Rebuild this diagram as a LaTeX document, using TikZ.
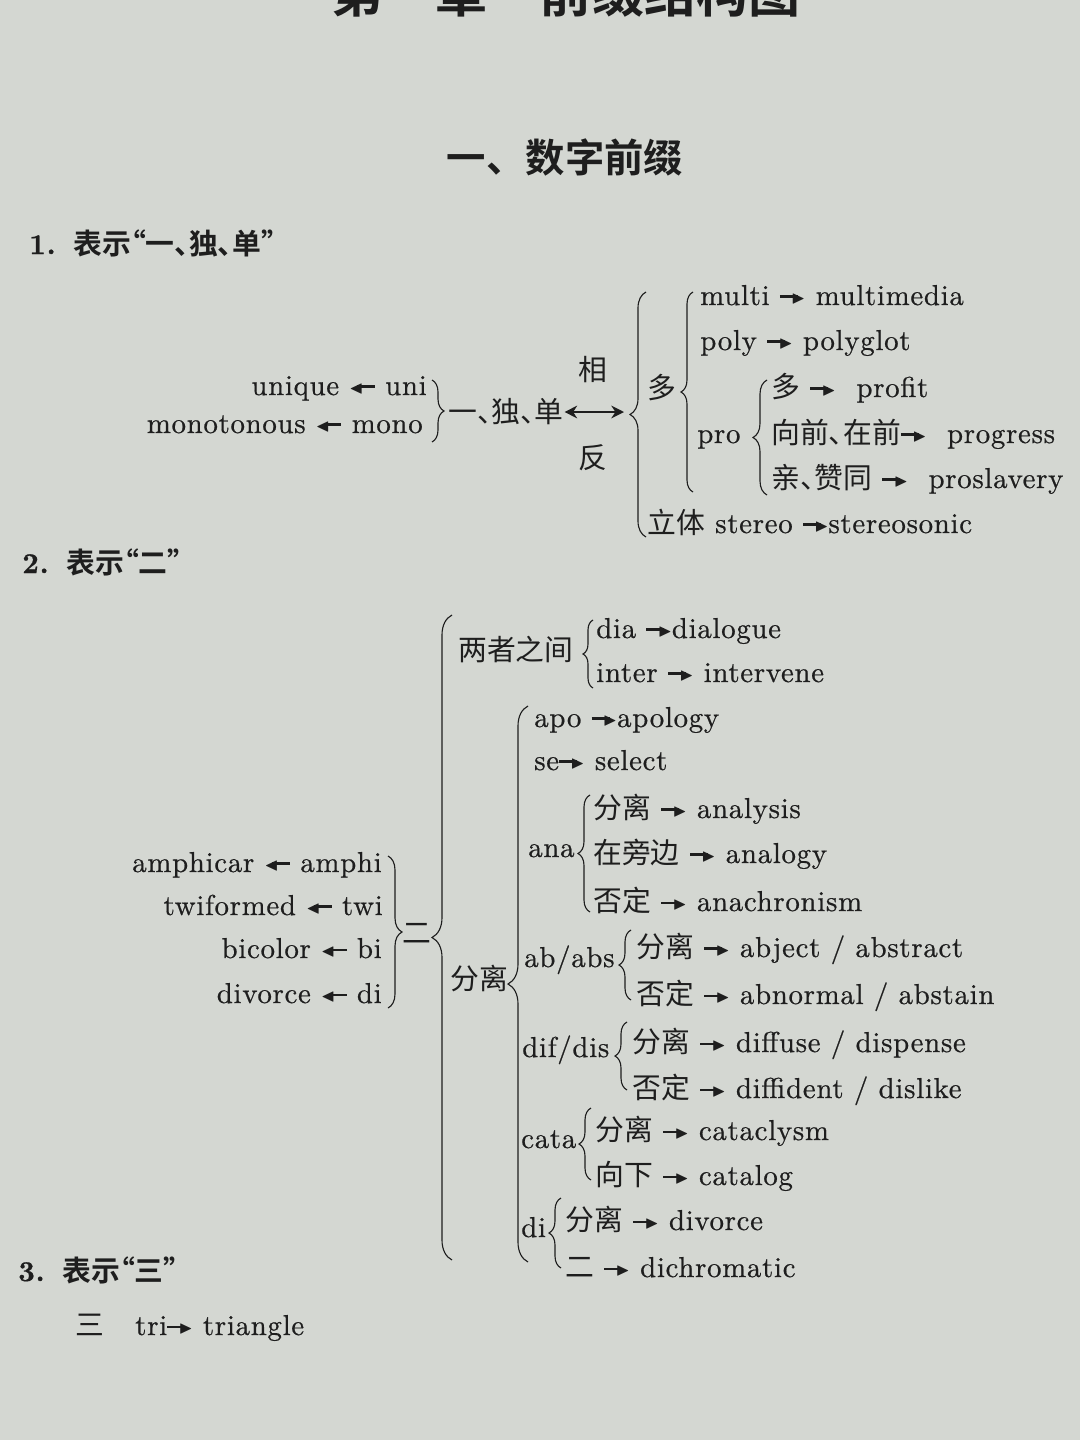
\documentclass[tikz,border=0pt]{standalone}
\usepackage{amssymb}
\usepackage{fontspec}
\setmainfont{lmroman10-regular.otf}[BoldFont=lmroman10-bold.otf, FakeBold=0.6, LetterSpace=2.5]
\usetikzlibrary{decorations.pathreplacing,arrows.meta}
\newfontfamily\cjk{Noto Sans CJK SC}[RawFeature=+halt]
\newfontfamily\cjkbf{Noto Sans CJK SC Bold}[RawFeature=+halt]
\newfontfamily\cjkhead{Noto Sans CJK SC Bold}
\newcommand{\zh}[1]{{\cjk #1}}
\newcommand{\ra}{\raisebox{0.24em}{\rule{0.62em}{0.09em}}\kern-0.22em\raisebox{0.06em}{\scalebox{0.62}{$\blacktriangleright$}}}
\newcommand{\la}{\raisebox{0.06em}{\scalebox{0.62}{$\blacktriangleleft$}}\kern-0.22em\raisebox{0.24em}{\rule{0.62em}{0.09em}}}
\definecolor{paper}{RGB}{212,215,210}
\definecolor{ink}{RGB}{30,30,30}

\begin{document}
\begin{tikzpicture}[scale=0.25, font=\fontsize{20.5}{24}\selectfont,
  curly/.style={draw=ink, line width=0.8pt, decorate, decoration={brace, amplitude=#1}},
  curly/.default=3mm,
  dbl/.style={draw=ink, line width=1.5pt, <->, >={Stealth[length=9pt,width=9pt]}}]
\tikzstyle{every node}+=[inner sep=0pt, text=ink]
\fill [paper] (0,0) rectangle (108,-144);
\useasboundingbox (0,0) rectangle (108,-144);
\draw (56.6,0.8) node (title) {\fontsize{37}{40}\selectfont\cjkhead 第一章\quad 前缀结构图};
\draw (56.5,-15.7) node (numhead) {\fontsize{28}{32}\selectfont\cjkhead 一、数字前缀};
\draw (2.9,-24.3) node (head1) [anchor=west] {\fontsize{20.5}{24}\selectfont\textbf{1.}\hspace{0.6em}\cjkbf 表示“一、独、单”};
\draw (42.7,-39.5) node (uni) [anchor=base east] {unique \la{} uni};
\draw (42.3,-43.3) node (mono) [anchor=base east] {monotonous \la{} mono};
\draw [curly=3mm] (43.2,-38.0) -- (43.2,-44.2);
\draw (44.8,-41.2) node (yidu) [anchor=west] {\zh{一、独、单}};
\coordinate (hub1) at (62.4,-41.2);
\draw [dbl] ([xshift=2pt]yidu.east) -- (hub1);
\draw (59.3,-37.0) node (xiang) {\zh{相}};
\draw (59.3,-45.8) node (fan) {\zh{反}};
\draw [curly=4mm] (64.6,-53.7) -- (64.6,-29.2);
\draw (66.2,-38.8) node (duo) {\zh{多}};
\draw [curly=3mm] (69.3,-49.2) -- (69.3,-29.2);
\draw (70.0,-30.5) node (multi) [anchor=base west] {multi \ra{} multimedia};
\draw (70.0,-35.0) node (poly) [anchor=base west] {poly \ra{} polyglot};
\draw (69.7,-44.3) node (pro) [anchor=base west] {pro};
\draw [curly=3.5mm] (76.7,-49.5) -- (76.7,-38.0);
\draw (77.1,-39.7) node (profit) [anchor=base west] {\zh{多} \ra{} \ profit};
\draw (77.1,-44.3) node (progress) [anchor=base west] {\zh{向前、在前}\ra{} \ progress};
\draw (77.1,-48.8) node (proslavery) [anchor=base west] {\zh{亲、赞同} \ra{} \ proslavery};
\draw (64.7,-53.3) node (stereo) [anchor=base west] {\zh{立体} stereo \ra{}stereosonic};
\draw (2.2,-56.2) node (head2) [anchor=west] {\fontsize{20.5}{24}\selectfont\textbf{2.}\hspace{0.6em}\cjkbf 表示“二”};
\draw (38.2,-87.2) node (amphi) [anchor=base east] {amphicar \la{} amphi};
\draw (38.3,-91.5) node (twi) [anchor=base east] {twiformed \la{} twi};
\draw (38.2,-95.8) node (bi) [anchor=base east] {bicolor \la{} bi};
\draw (38.2,-100.3) node (dileft) [anchor=base east] {divorce \la{} di};
\draw [curly=3.5mm] (38.8,-85.6) -- (38.8,-100.8);
\draw (41.7,-93.3) node (er) {\zh{二}};
\draw [curly=5mm] (45.2,-126.0) -- (45.2,-61.5);
\draw (45.8,-64.9) node (between) [anchor=west] {\zh{两者之间}};
\draw [curly=2.5mm] (59.3,-68.8) -- (59.3,-62.0);
\draw (59.6,-63.8) node (dia) [anchor=base west] {dia \ra{}dialogue};
\draw (59.6,-68.2) node (inter) [anchor=base west] {inter \ra{} intervene};
\draw (45.0,-97.8) node (apart) [anchor=west] {\zh{分离}};
\draw [curly=5mm] (52.8,-126.2) -- (52.8,-70.6);
\draw (53.4,-72.7) node (apo) [anchor=base west] {apo \ra{}apology};
\draw (53.4,-77.0) node (se) [anchor=base west] {se\ra{} select};
\draw (52.8,-85.7) node (ana) [anchor=base west] {ana};
\draw [curly=3mm] (59.0,-91.2) -- (59.0,-79.5);
\draw (59.3,-81.8) node (analysis) [anchor=base west] {\zh{分离} \ra{} analysis};
\draw (59.3,-86.3) node (analogy) [anchor=base west] {\zh{在旁边} \ra{} analogy};
\draw (59.3,-91.1) node (anachronism) [anchor=base west] {\zh{否定} \ra{} anachronism};
\draw (52.4,-96.7) node (ababs) [anchor=base west] {ab/abs};
\draw [curly=3mm] (63.1,-100.0) -- (63.1,-93.0);
\draw (63.6,-95.7) node (abject) [anchor=base west] {\zh{分离} \ra{} abject / abstract};
\draw (63.6,-100.4) node (abnormal) [anchor=base west] {\zh{否定} \ra{} abnormal / abstain};
\draw (52.2,-105.7) node (difdis) [anchor=base west] {dif/dis};
\draw [curly=3mm] (62.7,-109.0) -- (62.7,-102.2);
\draw (63.2,-105.2) node (diffuse) [anchor=base west] {\zh{分离} \ra{} diffuse / dispense};
\draw (63.2,-109.8) node (diffident) [anchor=base west] {\zh{否定} \ra{} diffident / dislike};
\draw (52.1,-114.8) node (cata) [anchor=base west] {cata};
\draw [curly=3mm] (59.1,-118.0) -- (59.1,-110.8);
\draw (59.5,-114.0) node (cataclysm) [anchor=base west] {\zh{分离} \ra{} cataclysm};
\draw (59.5,-118.5) node (catalog) [anchor=base west] {\zh{向下} \ra{} catalog};
\draw (52.1,-123.7) node (di) [anchor=base west] {di};
\draw [curly=3mm] (56.1,-126.8) -- (56.1,-119.8);
\draw (56.5,-123.0) node (divorce) [anchor=base west] {\zh{分离} \ra{} divorce};
\draw (56.5,-127.7) node (dichromatic) [anchor=base west] {\zh{二} \ra{} dichromatic};
\draw (1.8,-127.0) node (head3) [anchor=west] {\fontsize{20.5}{24}\selectfont\textbf{3.}\hspace{0.6em}\cjkbf 表示“三”};
\draw (9.0,-132.5) node (three) {\zh{三}};
\draw (13.5,-133.5) node (tri) [anchor=base west] {tri\ra{} triangle};
\end{tikzpicture}
\end{document}
